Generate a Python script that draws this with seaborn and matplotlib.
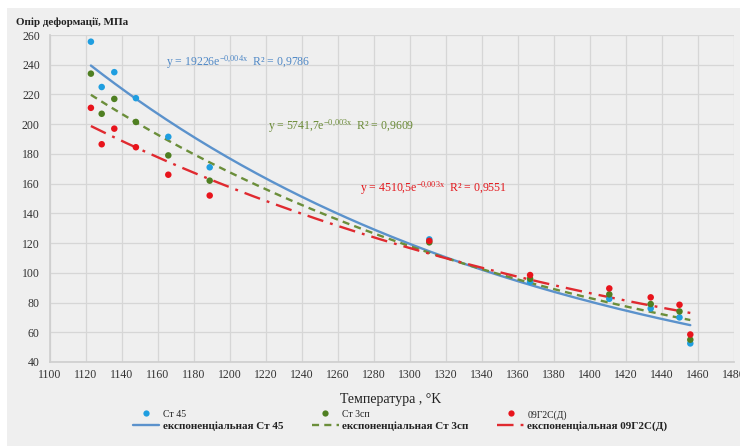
import numpy as np
import pandas as pd
import matplotlib
matplotlib.use("Agg")
import matplotlib.pyplot as plt
import seaborn as sns
from matplotlib.patches import Rectangle
from matplotlib.lines import Line2D

# Measured deformation resistance (MPa) versus temperature (K)
temperature = [1123, 1129, 1136, 1148, 1166, 1189, 1311, 1367, 1411, 1434, 1450, 1456]
st45 = [255.5, 225, 235, 217.5, 191.5, 171, 122.5, 94, 82.5, 76, 70, 52.5]
st3sp = [234, 207, 217, 201.5, 179, 162, 120.5, 96, 85.5, 79, 74, 55]
st09g2s = [211, 186.5, 197, 184.5, 166, 152, 121.5, 98.5, 89.5, 83.5, 78.5, 58.5]

series_names = ["Ст 45", "Ст 3сп", "09Г2С(Д)"]
trend_names = ["експоненціальная Ст 45", "експоненціальная Ст 3сп", "експоненціальная 09Г2С(Д)"]
equations = [
    r"y = 19226e$^{\mathrm{-0{,}004x}}$  R² = 0,9786",
    r"y = 5741,7e$^{\mathrm{-0{,}003x}}$  R² = 0,9609",
    r"y = 4510,5e$^{\mathrm{-0{,}003x}}$  R² = 0,9551",
]
marker_colors = ["#1f9ee0", "#4f7f22", "#e8141c"]
line_colors = ["#5b92cc", "#6b8e3a", "#e02a30"]
text_colors = ["#4f88c6", "#6a8a36", "#e3161b"]
line_styles = ["-", (0, (3.0, 2.2)), (0, (7, 3, 1.2, 3))]

x_ticks = list(range(1100, 1481, 20))
y_ticks = list(range(40, 261, 20))

sns.set_theme(style="whitegrid")
plt.rcParams["font.family"] = ["Liberation Serif", "DejaVu Serif"]
plt.rcParams["mathtext.fontset"] = "custom"
plt.rcParams["mathtext.rm"] = "Liberation Serif"
plt.rcParams["mathtext.it"] = "Liberation Serif:italic"

panel = "#efefef"
fig = plt.figure(figsize=(7.40, 4.46), dpi=100, facecolor="white")
fig.patches.append(Rectangle((7 / 740, 0), 1 - 7 / 740, 1 - 8 / 446,
                             transform=fig.transFigure, facecolor=panel,
                             edgecolor="none", zorder=-10))
ax = fig.add_axes([49.5 / 740, 84 / 446, 684 / 740, 327 / 446])
ax.set_facecolor(panel)

long = pd.DataFrame({
    "T": temperature * 3,
    "sigma": st45 + st3sp + st09g2s,
    "steel": sum([[n] * len(temperature) for n in series_names], []),
})

# Exponential trend fitted on log values, drawn over the measured range
trend_rows = []
for name, vals in zip(series_names, [st45, st3sp, st09g2s]):
    k, c = np.polyfit(temperature, np.log(vals), 1)
    xs = np.linspace(min(temperature), max(temperature), 200)
    trend_rows.append(pd.DataFrame({"T": xs, "sigma": np.exp(c + k * xs), "steel": name}))
trend = pd.concat(trend_rows, ignore_index=True)

for name, col, ls in zip(series_names, line_colors, line_styles):
    sns.lineplot(data=trend[trend.steel == name], x="T", y="sigma", color=col,
                 linewidth=1.7, linestyle=ls, ax=ax, legend=False, zorder=3)

sns.scatterplot(data=long, x="T", y="sigma", hue="steel", palette=marker_colors,
                hue_order=series_names, s=22, edgecolor="none", ax=ax,
                legend=False, zorder=4)

ax.set_xlim(1100, 1480)
ax.set_ylim(40, 260)
ax.set_xticks(x_ticks)
ax.set_yticks(y_ticks)
ax.grid(True, color="#d6d6d6", linewidth=0.9)
ax.tick_params(axis="both", length=0, labelsize=8.5, colors="#333333")
ax.tick_params(axis="x", pad=5)
ax.tick_params(axis="y", pad=7)
for side in ax.spines:
    ax.spines[side].set_visible(False)
ax.spines["left"].set_visible(True)
ax.spines["bottom"].set_visible(True)
ax.spines["left"].set_color("#cfcfcf")
ax.spines["bottom"].set_color("#cfcfcf")
ax.set_xlabel("")
ax.set_ylabel("")

# Trend equations
eq_pos = [(166, 62), (268, 126), (360, 188)]
for (px, py), txt, tc in zip(eq_pos, equations, text_colors):
    fig.text(px / 740, 1 - py / 446, txt, color=tc, fontsize=8.5, va="center", ha="left")

fig.text(16 / 740, 1 - 22 / 446, "Опір деформації, МПа", fontsize=8,
         fontweight="bold", va="center", ha="left", color="#222222")
fig.text(391 / 740, 1 - 399 / 446, "Температура , °K", fontsize=10,
         va="center", ha="center", color="#222222")

handles, labels = [], []
for name, tname, mcol, lcol, ls in zip(series_names, trend_names, marker_colors,
                                       line_colors, line_styles):
    handles.append(Line2D([], [], linestyle="none", marker="o", markersize=4.5,
                          markerfacecolor=mcol, markeredgecolor="none"))
    labels.append(name)
    handles.append(Line2D([], [], color=lcol, linestyle=ls, linewidth=1.7))
    labels.append(tname)

leg = fig.legend(handles, labels, ncol=3, loc="upper center",
                 bbox_to_anchor=(400 / 740, 1 - 404 / 446), frameon=False,
                 fontsize=8, handlelength=2.4, handletextpad=0.3,
                 columnspacing=2.6, labelspacing=0.15, borderpad=0)
for i, t in enumerate(leg.get_texts()):
    t.set_color("#222222")
    if i % 2 == 0:
        t.set_fontsize(7)
    else:
        t.set_fontweight("bold")

fig.savefig("out.png", dpi=100, facecolor="white")
